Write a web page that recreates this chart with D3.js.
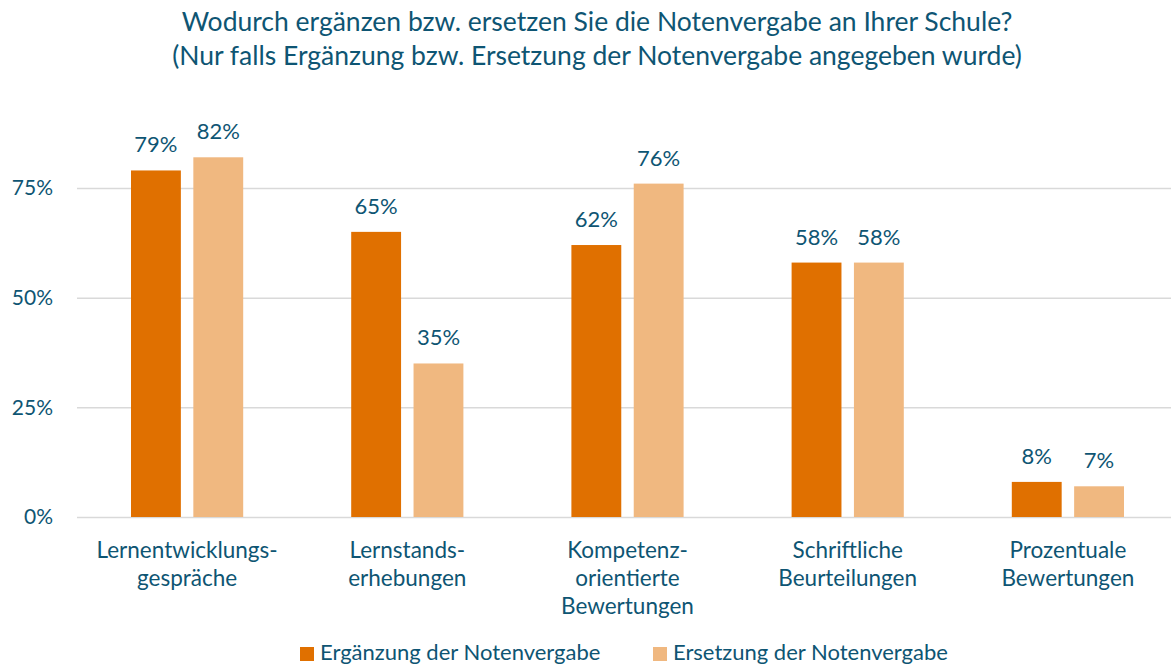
<!DOCTYPE html>
<html>
<head>
<meta charset="utf-8">
<script src="https://cdn.jsdelivr.net/npm/d3@7"></script>
<style>
  body { margin: 0; background: #fff; }
  svg { display: block; font-family: Lato, "Open Sans", sans-serif; }
</style>
</head>
<body>
<svg id="chart" width="1171" height="666"></svg>
<script>
// categories (label lines) and series values in percent
var categories = [
  ["Lernentwicklungs-", "gespräche"],
  ["Lernstands-", "erhebungen"],
  ["Kompetenz-", "orientierte", "Bewertungen"],
  ["Schriftliche", "Beurteilungen"],
  ["Prozentuale", "Bewertungen"]
];
var seriesNames = ["Ergänzung der Notenvergabe", "Ersetzung der Notenvergabe"];
var ergaenzung = [79, 65, 62, 58, 8];
var ersetzung = [82, 35, 76, 58, 7];
var yTicks = [0, 25, 50, 75];
var titleLines = [
  "Wodurch ergänzen bzw. ersetzen Sie die Notenvergabe an Ihrer Schule?",
  "(Nur falls Ergänzung bzw. Ersetzung der Notenvergabe angegeben wurde)"
];

var colors = ["#e07000", "#f0b880"];
var textColor = "#0e5573";

var svg = d3.select("#chart");
var margin = {left: 77, right: -7, top: 100, bottom: 149};
var width = 1171 - margin.left - margin.right;
var height = 666 - margin.top - margin.bottom;

var keys = categories.map(function(c, i) { return i; });
var data = keys.map(function(i) { return [ergaenzung[i], ersetzung[i]]; });

var x = d3.scaleBand().domain(keys).range([0, width]).paddingInner(0).paddingOuter(0);
var x1 = d3.scaleBand().domain([0, 1]).range([54, x.bandwidth() - 54]).paddingInner(0.2);
var y = d3.scaleLinear().domain([0, 75]).range([height, height - 329]);

var g = svg.append("g").attr("transform", "translate(" + margin.left + "," + margin.top + ")");

// title
svg.append("g").selectAll("text")
  .data(titleLines).enter()
  .append("text")
  .attr("x", 597)
  .attr("y", function(d, i) { return 31 + i * 34; })
  .attr("text-anchor", "middle")
  .attr("fill", textColor)
  .style("font-size", "26.5px")
  .text(function(d) { return d; });

// gridlines + y axis
var yAxis = g.append("g")
  .call(d3.axisLeft(y).tickValues(yTicks).tickSize(-width).tickPadding(24)
    .tickFormat(function(d) { return d + "%"; }));
yAxis.select(".domain").remove();
yAxis.selectAll("line").attr("stroke", "#d9d9d9").attr("stroke-width", 1.5);
yAxis.selectAll("text").attr("fill", textColor).style("font-size", "21px")
  .style("font-family", "Lato, sans-serif");

// bars
var groups = g.selectAll("g.group")
  .data(data).enter()
  .append("g")
  .attr("class", "group")
  .attr("transform", function(d, i) { return "translate(" + x(i) + ",0)"; });

groups.selectAll("rect")
  .data(function(d) { return d; }).enter()
  .append("rect")
  .attr("x", function(d, j) { return x1(j); })
  .attr("y", function(d) { return y(d); })
  .attr("width", x1.bandwidth())
  .attr("height", function(d) { return y(0) - y(d); })
  .attr("fill", function(d, j) { return colors[j]; });

groups.selectAll("text.value")
  .data(function(d) { return d; }).enter()
  .append("text")
  .attr("class", "value")
  .attr("x", function(d, j) { return x1(j) + x1.bandwidth() / 2; })
  .attr("y", function(d) { return y(d) - 18; })
  .attr("text-anchor", "middle")
  .attr("fill", textColor)
  .style("font-size", "22px")
  .text(function(d) { return d + "%"; });

// category labels
var catLabels = g.selectAll("text.cat")
  .data(categories).enter()
  .append("text")
  .attr("class", "cat")
  .attr("x", function(d, i) { return x(i) + x.bandwidth() / 2; })
  .attr("y", height + 41)
  .attr("text-anchor", "middle")
  .attr("fill", textColor)
  .style("font-size", "22.5px");
catLabels.selectAll("tspan")
  .data(function(d) { return d; }).enter()
  .append("tspan")
  .attr("x", function() { return d3.select(this.parentNode).attr("x"); })
  .attr("dy", function(d, i) { return i === 0 ? 0 : 28; })
  .text(function(d) { return d; });

// legend
var legendX = [300, 653];
var legend = svg.selectAll("g.legend")
  .data(seriesNames).enter()
  .append("g")
  .attr("class", "legend")
  .attr("transform", function(d, i) { return "translate(" + legendX[i] + ",646)"; });
legend.append("rect").attr("y", 1).attr("width", 14).attr("height", 14)
  .attr("fill", function(d, i) { return colors[i]; });
legend.append("text").attr("x", 20).attr("y", 14)
  .attr("fill", textColor).style("font-size", "22px")
  .text(function(d) { return d; });
</script>
</body>
</html>
